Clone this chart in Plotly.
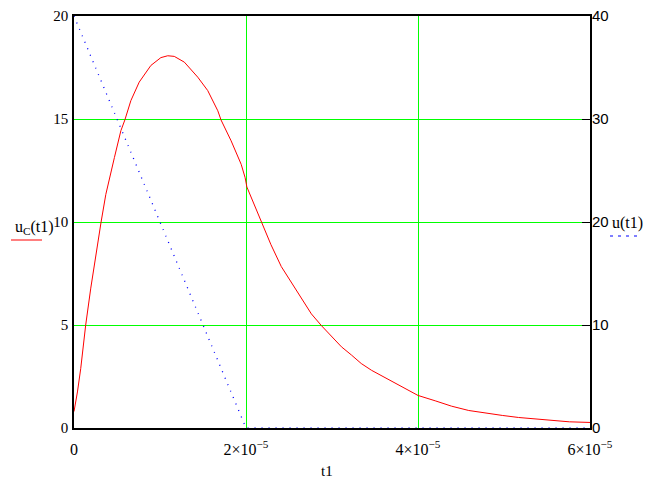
import plotly.graph_objects as go

# Data
t_uc = [0.0, 0.4e-6, 0.78e-6, 1.36e-6, 1.95e-6, 2.53e-6, 3.15e-6, 3.7e-6, 4.31e-6, 4.7e-6,
        5.45e-6, 5.91e-6, 6.61e-6, 7.58e-6, 8.94e-6, 10.1e-6, 10.9e-6, 11.66e-6, 12.83e-6,
        14.39e-6, 15.55e-6, 16.72e-6, 17.1e-6, 18.27e-6, 19.44e-6, 19.9e-6, 20.1e-6,
        21.77e-6, 22.9e-6, 24.1e-6, 25.3e-6, 26.4e-6, 27.6e-6, 28.77e-6, 29.94e-6, 31.1e-6,
        32.27e-6, 33.4e-6, 34.6e-6, 35.8e-6, 36.9e-6, 38.1e-6, 39.2e-6, 40.0e-6, 42.0e-6,
        43.9e-6, 45.9e-6, 47.8e-6, 49.8e-6, 51.7e-6, 53.7e-6, 55.6e-6, 57.6e-6, 60.0e-6]
uc_vals = [0.8, 1.75, 2.88, 5.0, 6.79, 8.41, 10.0, 11.34, 12.48, 13.13,
           14.43, 14.95, 15.89, 16.79, 17.6, 17.98, 18.07, 18.04, 17.76,
           17.03, 16.38, 15.4, 14.95, 13.94, 12.8, 12.15, 11.7,
           10.0, 8.9, 7.84, 7.03, 6.3, 5.54, 4.97, 4.43, 3.94,
           3.54, 3.13, 2.8, 2.53, 2.27, 2.02, 1.78, 1.58, 1.32,
           1.06, 0.85, 0.72, 0.61, 0.51, 0.43, 0.35, 0.30, 0.27]

t_u = [0.0, 2e-5, 6e-5]
u_vals = [40, 0, 0]

x_ticks = [0, 2e-5, 4e-5, 6e-5]
x_ticktext = ["0", "2×10<sup>−5</sup>", "4×10<sup>−5</sup>", "6×10<sup>−5</sup>"]
y_left_ticks = [0, 5, 10, 15, 20]
y_right_ticks = [0, 10, 20, 30, 40]

serif = "Liberation Serif"
sans = "Liberation Sans"

W, H = 657, 489
OFF = 7  # page body offset
L, T = 66, 8
PW, PH = 516, 412
R, B = W - L - PW, H - T - PH
pw, ph = PW, PH


def px(x):
    return (x - OFF - L) / pw


def py(y):
    return (H - B - (y - OFF)) / ph


fig = go.Figure()
fig.add_trace(go.Scatter(x=t_uc, y=uc_vals, mode="lines", line=dict(color="#ff0000", width=1),
                         yaxis="y", showlegend=False))
fig.add_trace(go.Scatter(x=t_u, y=u_vals, mode="lines",
                         line=dict(color="#0000ff", width=1.3, dash="1px,6px"),
                         yaxis="y2", showlegend=False))

fig.update_layout(
    width=W, height=H,
    margin=dict(l=L, r=R, t=T, b=B, autoexpand=False),
    paper_bgcolor="white", plot_bgcolor="white",
    xaxis=dict(range=[0, 6e-5], tickvals=x_ticks, ticktext=x_ticktext, automargin=False,
               showgrid=True, gridcolor="#00ff00", gridwidth=1,
               showline=True, linecolor="black", linewidth=1.5, mirror=True,
               ticks="", ticklabelstandoff=6, zeroline=False, layer="below traces",
               ticklabeloverflow="allow",
               tickfont=dict(family=serif, size=16, color="black")),
    yaxis=dict(range=[0, 20], tickvals=y_left_ticks, automargin=False,
               showgrid=True, gridcolor="#00ff00", gridwidth=1,
               showline=True, linecolor="black", linewidth=1.5, mirror=True,
               ticks="", ticklabelstandoff=1, zeroline=False,
               ticklabeloverflow="allow",
               tickfont=dict(family=serif, size=15, color="black")),
    yaxis2=dict(range=[0, 40], tickvals=y_right_ticks, overlaying="y", side="right", automargin=False,
                showgrid=False, showline=False, zeroline=False,
                ticks="inside", ticklen=8, tickcolor="black", tickwidth=1,
                ticklabelstandoff=1, ticklabeloverflow="allow",
                tickfont=dict(family=sans, size=15, color="black")),
)

fig.add_annotation(text="u<sub>C</sub>(t1)", x=px(12), y=py(226), xref="paper", yref="paper",
                   xanchor="left", yanchor="middle", showarrow=False,
                   font=dict(family=serif, size=16, color="black"))
fig.add_annotation(text="u(t1)", x=px(609), y=py(222), xref="paper", yref="paper",
                   xanchor="left", yanchor="middle", showarrow=False,
                   font=dict(family=serif, size=16, color="black"))
fig.add_annotation(text="t1", x=px(326), y=py(470), xref="paper", yref="paper",
                   xanchor="center", yanchor="middle", showarrow=False,
                   font=dict(family=serif, size=15, color="black"))
fig.add_shape(type="line", xref="paper", yref="paper", x0=px(10), x1=px(41), y0=py(239), y1=py(239),
              line=dict(color="#ff0000", width=1))
fig.add_shape(type="line", xref="paper", yref="paper", x0=px(609), x1=px(636), y0=py(235), y1=py(235),
              line=dict(color="#0000ff", width=1, dash="3px,5px"))

fig.write_html("out.html")
